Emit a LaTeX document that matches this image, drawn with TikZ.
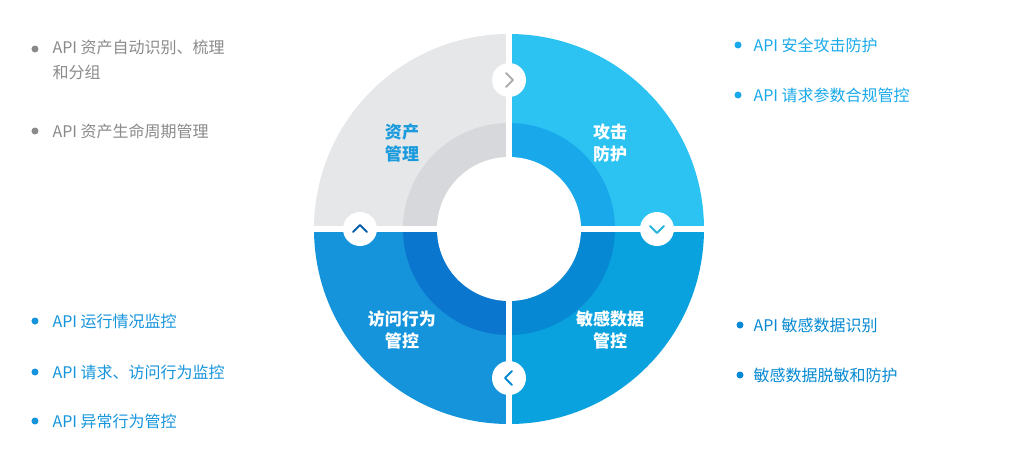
\documentclass[tikz,border=0pt]{standalone}
\usepackage{fontspec}
\setmainfont{Noto Sans CJK SC}
\definecolor{greyout}{HTML}{E6E7E9}
\definecolor{greyin}{HTML}{D6D8DC}
\definecolor{cyanout}{HTML}{2CC3F2}
\definecolor{cyanin}{HTML}{19A9EA}
\definecolor{blueout}{HTML}{0AA2DE}
\definecolor{bluein}{HTML}{0689D2}
\definecolor{navyout}{HTML}{1594DC}
\definecolor{navyin}{HTML}{0A76CD}
\definecolor{greytext}{HTML}{8A8A8A}
\definecolor{bluetext}{HTML}{1A9BDD}
\tikzset{
    quadlabel/.style={font=\fontsize{17}{22}\selectfont\bfseries, align=center, text=white},
    itemtext/.style={font=\fontsize{16}{25}\selectfont, anchor=west, align=left},
    dot/.style={circle, inner sep=0pt, minimum size=7pt},
    knob/.style={circle, fill=white, minimum size=34pt, inner sep=0pt},
    chev/.style={line width=2pt, line cap=round, line join=round},
}
\begin{document}
\begin{tikzpicture}[x=1pt,y=1pt]
    \useasboundingbox (-509,-235) rectangle (515,229);
    %Ring
    \fill[greyout] (0,0) -- (180:195) arc (180:90:195) -- cycle;
    \fill[cyanout] (0,0) -- (90:195) arc (90:0:195) -- cycle;
    \fill[blueout] (0,0) -- (0:195) arc (0:-90:195) -- cycle;
    \fill[navyout] (0,0) -- (-90:195) arc (-90:-180:195) -- cycle;
    \fill[greyin] (0,0) -- (180:106) arc (180:90:106) -- cycle;
    \fill[cyanin] (0,0) -- (90:106) arc (90:0:106) -- cycle;
    \fill[bluein] (0,0) -- (0:106) arc (0:-90:106) -- cycle;
    \fill[navyin] (0,0) -- (-90:106) arc (-90:-180:106) -- cycle;
    \fill[white] (0,0) circle (72);
    \draw[white, line width=6pt] (-200,0) -- (200,0) (0,-200) -- (0,200);

    %Knobs
    \node[knob] (top) at (0,149) {};
    \node[knob] (right) at (148,0) {};
    \node[knob] (bottom) at (0,-149) {};
    \node[knob] (left) at (-149,0) {};
    \draw[chev, greytext!70] ([shift={(-3,7)}]top.center) -- ([shift={(4,0)}]top.center) -- ([shift={(-3,-7)}]top.center);
    \draw[chev, cyanout!80!teal] ([shift={(-7,3)}]right.center) -- ([shift={(0,-4)}]right.center) -- ([shift={(7,3)}]right.center);
    \draw[chev, bluein] ([shift={(3,7)}]bottom.center) -- ([shift={(-4,0)}]bottom.center) -- ([shift={(3,-7)}]bottom.center);
    \draw[chev, navyin!80!black] ([shift={(-7,-3)}]left.center) -- ([shift={(0,4)}]left.center) -- ([shift={(7,-3)}]left.center);

    %Labels
    \node[quadlabel, text=bluetext] (asset) at (-107,86) {资产\\管理};
    \node[quadlabel] (attack) at (101,86) {攻击\\防护};
    \node[quadlabel] (sensitive) at (101,-101) {敏感数据\\管控};
    \node[quadlabel] (access) at (-107,-101) {访问行为\\管控};

    %Lists
    \node[dot, fill=greytext] (g1) at (-474,180) {};
    \node[itemtext, text=greytext, anchor=north west] (gt1) at (-460,193) {API\ 资产自动识别、梳理\\和分组};
    \node[dot, fill=greytext] (g2) at (-474,98) {};
    \node[itemtext, text=greytext] (gt2) at (-460,98) {API 资产生命周期管理};

    \node[dot, fill=cyanin] (c1) at (229,184) {};
    \node[itemtext, text=cyanin] (ct1) at (241,184) {API 安全攻击防护};
    \node[dot, fill=cyanin] (c2) at (229,134) {};
    \node[itemtext, text=cyanin] (ct2) at (241,134) {API 请求参数合规管控};

    \node[dot, fill=bluein] (b1) at (231,-96) {};
    \node[itemtext, text=bluein] (bt1) at (241,-96) {API 敏感数据识别};
    \node[dot, fill=bluein] (b2) at (231,-146) {};
    \node[itemtext, text=bluein] (bt2) at (241,-146) {敏感数据脱敏和防护};

    \node[dot, fill=navyout] (n1) at (-474,-92) {};
    \node[itemtext, text=navyout] (nt1) at (-460,-92) {API 运行情况监控};
    \node[dot, fill=navyout] (n2) at (-474,-143) {};
    \node[itemtext, text=navyout] (nt2) at (-460,-143) {API 请求、访问行为监控};
    \node[dot, fill=navyout] (n3) at (-474,-192) {};
    \node[itemtext, text=navyout] (nt3) at (-460,-192) {API 异常行为管控};
\end{tikzpicture}
\end{document}
